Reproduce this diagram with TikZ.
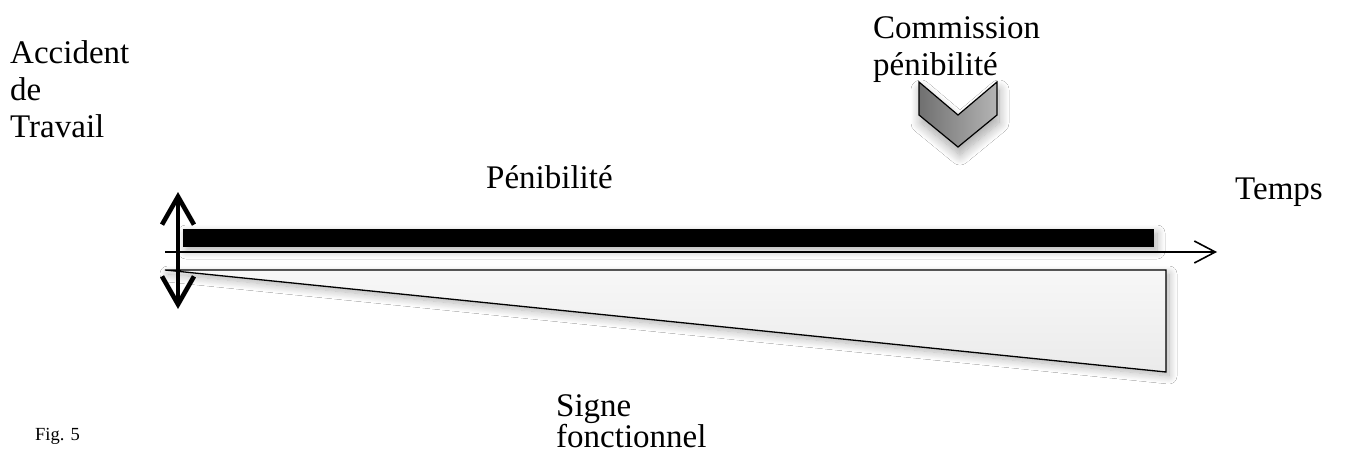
\documentclass[tikz,border=0pt]{standalone}
\usepackage{fontspec}
\setmainfont{Liberation Serif}
\usetikzlibrary{arrows.meta,shadows.blur}

\tikzset{
  lbl/.style={anchor=base west, inner sep=0pt, font=\fontsize{33}{38}\selectfont},
  smalllbl/.style={anchor=base west, inner sep=0pt, font=\fontsize{18.5}{22}\selectfont},
  softshadow/.style={blur shadow={shadow xshift=3pt, shadow yshift=-4pt, shadow blur radius=8pt, shadow blur steps=12, shadow opacity=30}},
  deepshadow/.style={blur shadow={shadow xshift=2pt, shadow yshift=-8pt, shadow blur radius=10pt, shadow blur steps=14, shadow opacity=35}},
  bar/.style={fill=black, softshadow},
  axisline/.style={line width=1.6pt, -{Straight Barb[length=21pt,width=22pt,line width=1.6pt]}},
  eventarrow/.style={line width=4.6pt, {Straight Barb[length=28pt,width=32pt]}-{Straight Barb[length=28pt,width=32pt]}},
  wedge/.style={draw=black, line width=1.3pt, top color=gray!6, bottom color=gray!16, softshadow},
  chevron/.style={draw=black, line width=1.2pt, left color={rgb,255:red,112;green,112;blue,112}, right color={rgb,255:red,180;green,180;blue,180}, deepshadow},
}

\begin{document}
\begin{tikzpicture}[x=1pt,y=-1pt]
\useasboundingbox[fill=white] (0,0) rectangle (1347,452);

% time axis
\coordinate (axisstart) at (165,252);
\coordinate (axisend) at (1217,252);

% accumulated "pénibilité": black bar
\path[bar] (183,229) rectangle (1154,247);

% functional sign: widening wedge below the axis
\path[wedge] (165,270) coordinate (wedgetip) -- (1166,270) -- (1166,372) -- cycle;

\draw[axisline] (axisstart) -- (axisend);

% work accident event
\coordinate (eventtop) at (178,192);
\coordinate (eventbottom) at (178,309);
\draw[eventarrow] (eventbottom) -- (eventtop);

% commission marker
\path[chevron] (919,82) -- (958,115) -- (997,82) -- (997,115) -- (958,147) -- (919,115) -- cycle;

% labels
\node[lbl] (accident) at (10,64) {Accident};
\node[lbl] (de) at (10,100) {de};
\node[lbl] (travail) at (10,137) {Travail};
\node[lbl] (commission) at (873,39) {Commission};
\node[lbl] (penib) at (873,76) {pénibilité};
\node[lbl] (penibilite) at (486,188) {Pénibilité};
\node[lbl] (temps) at (1235,199) {Temps};
\node[lbl] (signe) at (556,416) {Signe};
\node[lbl] (fonctionnel) at (556,447) {fonctionnel};
\node[smalllbl] (fig) at (35,440) {Fig. 5};
\end{tikzpicture}
\end{document}
